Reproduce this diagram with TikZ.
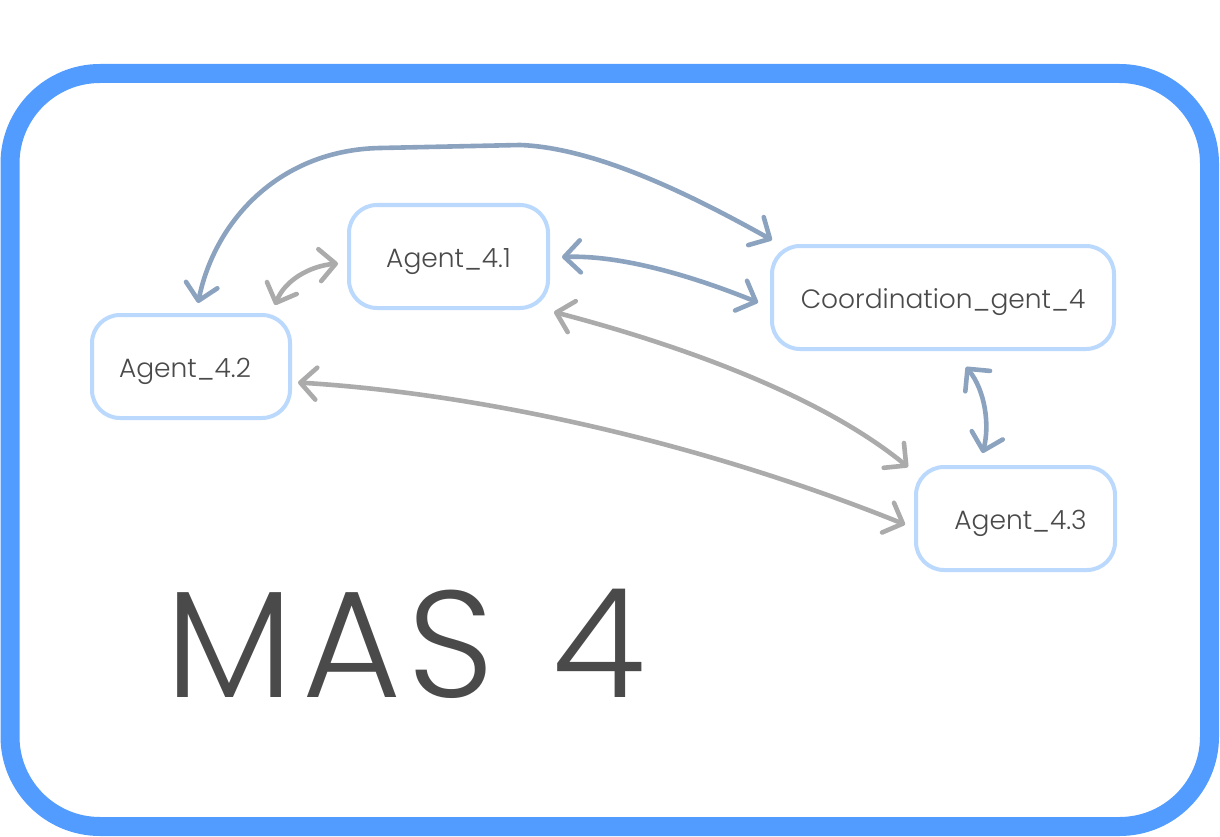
\documentclass[tikz,border=0pt]{standalone}
\usepackage{fontspec}
\setmainfont{Poppins}[UprightFont={* Light}]
\usetikzlibrary{arrows.meta}
\definecolor{frameblue}{HTML}{529BFF}
\definecolor{boxblue}{HTML}{BBD9FD}
\definecolor{linkblue}{HTML}{8CA3C0}
\definecolor{linkgray}{HTML}{ABABAB}
\definecolor{txt}{HTML}{4A4A4A}
\newcommand{\lbl}[2][0pt]{\hspace*{#1}\raisebox{-11pt}{#2}}
\tikzset{
  agentbox/.style={draw=boxblue, line width=4pt, rounded corners=28pt, fill=white,
    inner sep=0pt, text height=0pt, text depth=0pt, text=txt, font=\fontsize{26.5}{30}\selectfont},
  link/.style={line width=4.6pt, {Straight Barb[length=16pt,width=32pt,round]}-{Straight Barb[length=16pt,width=32pt,round]}},
  bluelink/.style={link, draw=linkblue},
  graylink/.style={link, draw=linkgray},
}
\begin{document}
\begin{tikzpicture}[x=1pt,y=-1pt]
\useasboundingbox (0,0) rectangle (1220,837);
\draw[frameblue, line width=19pt, rounded corners=90pt] (10,73.5) rectangle (1209.5,826.5);

\node[agentbox, minimum width=199pt, minimum height=103pt] (a41) at (448.5,256.5) {\lbl{Agent\_4.1}};
\node[agentbox, minimum width=198pt, minimum height=103pt] (a42) at (191,366.5) {\lbl[-12pt]{Agent\_4.2}};
\node[agentbox, minimum width=342pt, minimum height=103pt] (c4) at (943,297.5) {\lbl{Coordination\_gent\_4}};
\node[agentbox, minimum width=199pt, minimum height=103pt] (a43) at (1015.5,518.5) {\lbl[10pt]{Agent\_4.3}};

\node[anchor=base west, inner sep=0pt, text=txt, font=\fontsize{152}{160}\selectfont] (mas) at (165,697) {M\kern9pt A\kern6pt S\kern17pt\ 4};

% blue-gray links
\draw[bluelink] ([shift={(7,-10)}]a42.north) .. controls (215,220) and (280,150) .. (380,148)
  -- (520,145) .. controls (600,148) and (700,200) .. ([shift={(2,-4)}]c4.north west);
\draw[bluelink] ([shift={(12,0.5)}]a41.east) .. controls (620,255) and (690,275) .. ([shift={(-12,5)}]c4.west);
\draw[bluelink] ([shift={(23,16)}]c4.south) .. controls (985,390) and (990,425) .. ([shift={(-33,-12)}]a43.north);

% gray links
\draw[graylink] ([shift={(84,-8)}]a42.north) .. controls (285,280) and (310,266) .. ([shift={(-9,7)}]a41.west);
\draw[graylink] ([shift={(4,2)}]a41.south east) .. controls (680,345) and (820,395) .. ([shift={(-6,2)}]a43.north west);
\draw[graylink] ([shift={(6,16)}]a42.east) .. controls (500,395) and (720,450) .. ([shift={(-9,6)}]a43.west);
\end{tikzpicture}
\end{document}
